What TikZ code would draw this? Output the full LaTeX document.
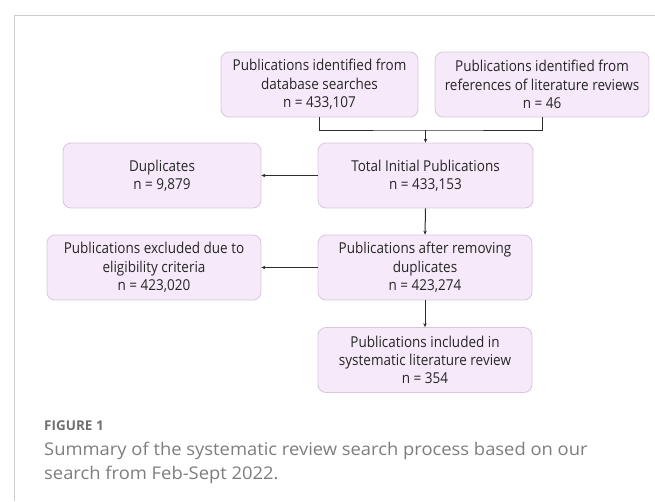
\documentclass[tikz,border=0pt]{standalone}
\usepackage{fontspec}
\setmainfont{Open Sans}[FakeStretch=0.9]
\newfontfamily\capfont{Open Sans}[FakeStretch=1.05]
\newfontfamily\labfont{Open Sans}
\usetikzlibrary{arrows.meta}
\definecolor{boxfill}{RGB}{246,233,249}
\definecolor{boxline}{RGB}{214,200,218}
\definecolor{linkcol}{RGB}{45,45,45}
\definecolor{framecol}{RGB}{205,205,205}
\definecolor{capcol}{RGB}{125,125,125}
\tikzset{
  flowbox/.style={draw=boxline, fill=boxfill, rounded corners=8pt, line width=0.8pt,
    minimum height=65pt, align=center, inner sep=2pt,
    font=\fontsize{15}{18.3}\selectfont, text=black!85},
  link/.style={draw=linkcol, line width=1pt},
  linkarr/.style={link, -{Stealth[length=4pt,width=3.5pt]}}
}
\begin{document}
\begin{tikzpicture}[x=1pt,y=-1pt]
\useasboundingbox (0,0) rectangle (655,501);
\draw[framecol, line width=1.5pt] (14.3,501) -- (14.3,15.3) -- (655,15.3);
\node[flowbox, minimum width=197pt] (dbsearch) at (319.5,84.5) {Publications identified from\\database searches\\n = 433,107};
\node[flowbox, minimum width=214pt] (refs) at (542,84.5) {Publications identified from\\references of literature reviews\\n = 46};
\node[flowbox, minimum width=215pt] (total) at (425.5,175.5) {Total Initial Publications\\n = 433,153};
\node[flowbox, minimum width=198pt] (dupl) at (162,175.5) {Duplicates\\n = 9,879};
\node[flowbox, minimum width=214pt] (afterdup) at (425,267.5) {Publications after removing\\duplicates\\n = 423,274};
\node[flowbox, minimum width=214pt] (excl) at (154,267.5) {Publications excluded due to\\eligibility criteria\\n = 423,020};
\node[flowbox, minimum width=214pt] (incl) at (425,360) {Publications included in\\systematic literature review\\n = 354};
\coordinate (merge) at (425.5,130);
\draw[link] (dbsearch.south) |- (merge) -| (refs.south);
\draw[linkarr] (merge) -- (total.north);
\draw[linkarr] (total.west) -- (dupl.east);
\draw[linkarr] (total.south) -- (afterdup.north);
\draw[linkarr] (afterdup.west) -- (excl.east);
\draw[linkarr] (afterdup.south) -- (incl.north);
\node[anchor=base west, inner sep=0pt, text=capcol!90!black, font=\labfont\bfseries\fontsize{13.5}{15}\selectfont] (figlabel) at (44,430) {FIGURE 1};
\node[anchor=base west, inner sep=0pt, text=capcol, align=left, font=\capfont\fontsize{17.5}{24}\selectfont] (figcap) at (44,479) {Summary of the systematic review search process based on our\\search from Feb-Sept 2022.};
\end{tikzpicture}
\end{document}
